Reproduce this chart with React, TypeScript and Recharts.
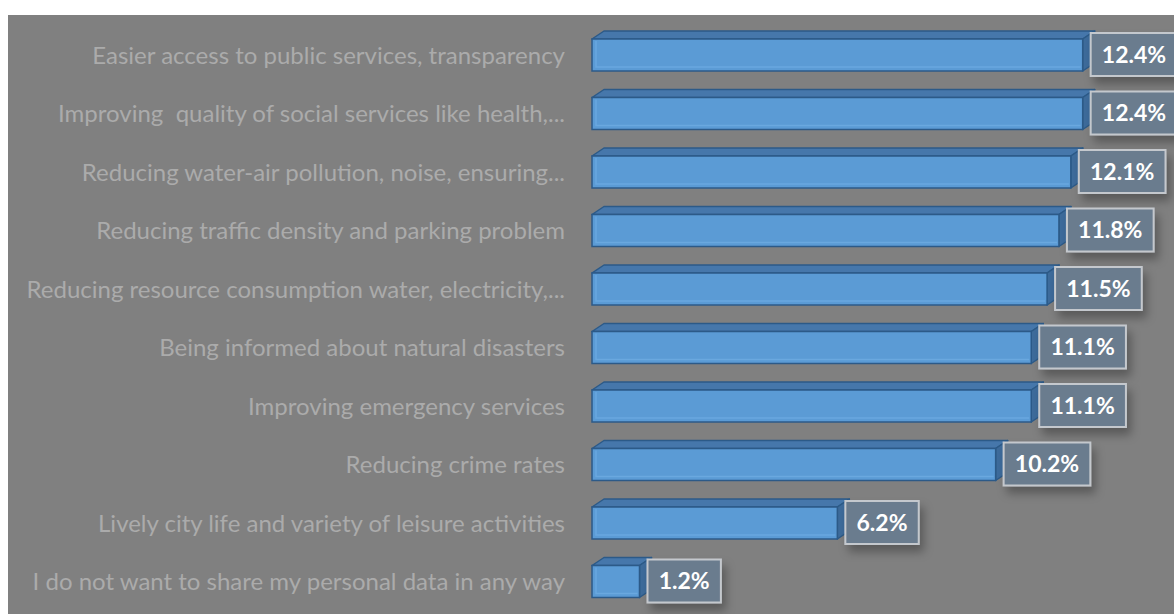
import React from "react";
import { BarChart, Bar, XAxis, YAxis, LabelList } from "recharts";

const categories = [
  "Easier access to public services, transparency",
  "Improving  quality of social services like health,...",
  "Reducing water-air pollution, noise, ensuring...",
  "Reducing traffic density and parking problem",
  "Reducing resource consumption water, electricity,...",
  "Being informed about natural disasters",
  "Improving emergency services",
  "Reducing crime rates",
  "Lively city life and variety of leisure activities",
  "I do not want to share my personal data in any way",
];
const shares = [12.4, 12.4, 12.1, 11.8, 11.5, 11.1, 11.1, 10.2, 6.2, 1.2];

const data = categories.map((name, i) => ({ name, value: shares[i] }));

const DEPTH_X = 12;
const DEPTH_Y = 8;

// front face plus top and right faces, like an Excel 3-D bar
const Bar3D = (props: any) => {
  const { x, y, width, height } = props;
  if (width == null || height == null) return null;
  const w = width;
  const h = height;
  const top = `${x},${y} ${x + DEPTH_X},${y - DEPTH_Y} ${x + w + DEPTH_X},${y - DEPTH_Y} ${x + w},${y}`;
  const side = `${x + w},${y} ${x + w + DEPTH_X},${y - DEPTH_Y} ${x + w + DEPTH_X},${y + h - DEPTH_Y} ${x + w},${y + h}`;
  return (
    <g>
      <polygon points={top} fill="#4677ab" stroke="#2c5a88" strokeWidth={1.5} strokeLinejoin="round" />
      <polygon points={side} fill="#3d6b9b" stroke="#2c5a88" strokeWidth={1.5} strokeLinejoin="round" />
      <rect x={x} y={y} width={w} height={h} fill="#5b9bd5" stroke="#2c5a88" strokeWidth={1.5} />
      <polyline
        points={`${x + 4},${y + 2} ${x + 4},${y + h - 4} ${x + w - 2},${y + h - 4}`}
        fill="none"
        stroke="#6aa8df"
        strokeWidth={1.5}
      />
    </g>
  );
};

const textWidth = (s: string) => {
  let t = 0;
  for (const c of s) {
    if (c === ".") t += 5.8;
    else if (c === "%") t += 19;
    else t += 13.3;
  }
  return t;
};

const ValueBox = (props: any) => {
  const { x, y, width, height, value } = props;
  const label = `${Number(value).toFixed(1)}%`;
  const bw = textWidth(label) + 22;
  const bx = x + width + 8;
  const by = y - 6;
  const bh = height + 11;
  return (
    <g>
      <rect x={bx} y={by} width={bw} height={bh} fill="#6b7c8e" stroke="#c4c8cd" strokeWidth={2} filter="url(#boxShadow)" />
      <text
        x={bx + bw / 2}
        y={by + bh / 2}
        dy="0.36em"
        textAnchor="middle"
        fill="#ffffff"
        fontFamily="Lato, 'Open Sans', sans-serif"
        fontWeight={700}
        fontSize={23}
      >
        {label}
      </text>
    </g>
  );
};

const CategoryTick = ({ x, y, payload }: any) => (
  <text
    x={x}
    y={y}
    dy="0.36em"
    textAnchor="end"
    fill="#ababab"
    fontFamily="Lato, 'Open Sans', sans-serif"
    fontSize={24}
    style={{ whiteSpace: "pre" }}
  >
    {payload.value}
  </text>
);

export default function App() {
  return (
    <div
      style={{
        position: "fixed",
        left: 8,
        top: 15,
        width: 1166,
        height: 599,
        background: "#808080",
        overflow: "hidden",
      }}
    >
      <BarChart
        width={1166}
        height={599}
        data={data}
        layout="vertical"
        margin={{ top: 11, right: 28, bottom: 3, left: 0 }}
      >
        <defs>
          <filter id="boxShadow" x="-30%" y="-30%" width="180%" height="200%">
            <feDropShadow dx={4} dy={7} stdDeviation={5} floodColor="#000" floodOpacity={0.3} />
          </filter>
        </defs>
        <XAxis type="number" hide domain={[0, 14]} />
        <YAxis
          type="category"
          dataKey="name"
          width={584}
          axisLine={false}
          tickLine={false}
          tickSize={0}
          tickMargin={27}
          interval={0}
          tick={<CategoryTick />}
        />
        <Bar dataKey="value" barSize={32} shape={<Bar3D />} isAnimationActive={false}>
          <LabelList dataKey="value" content={<ValueBox />} />
        </Bar>
      </BarChart>
    </div>
  );
}
